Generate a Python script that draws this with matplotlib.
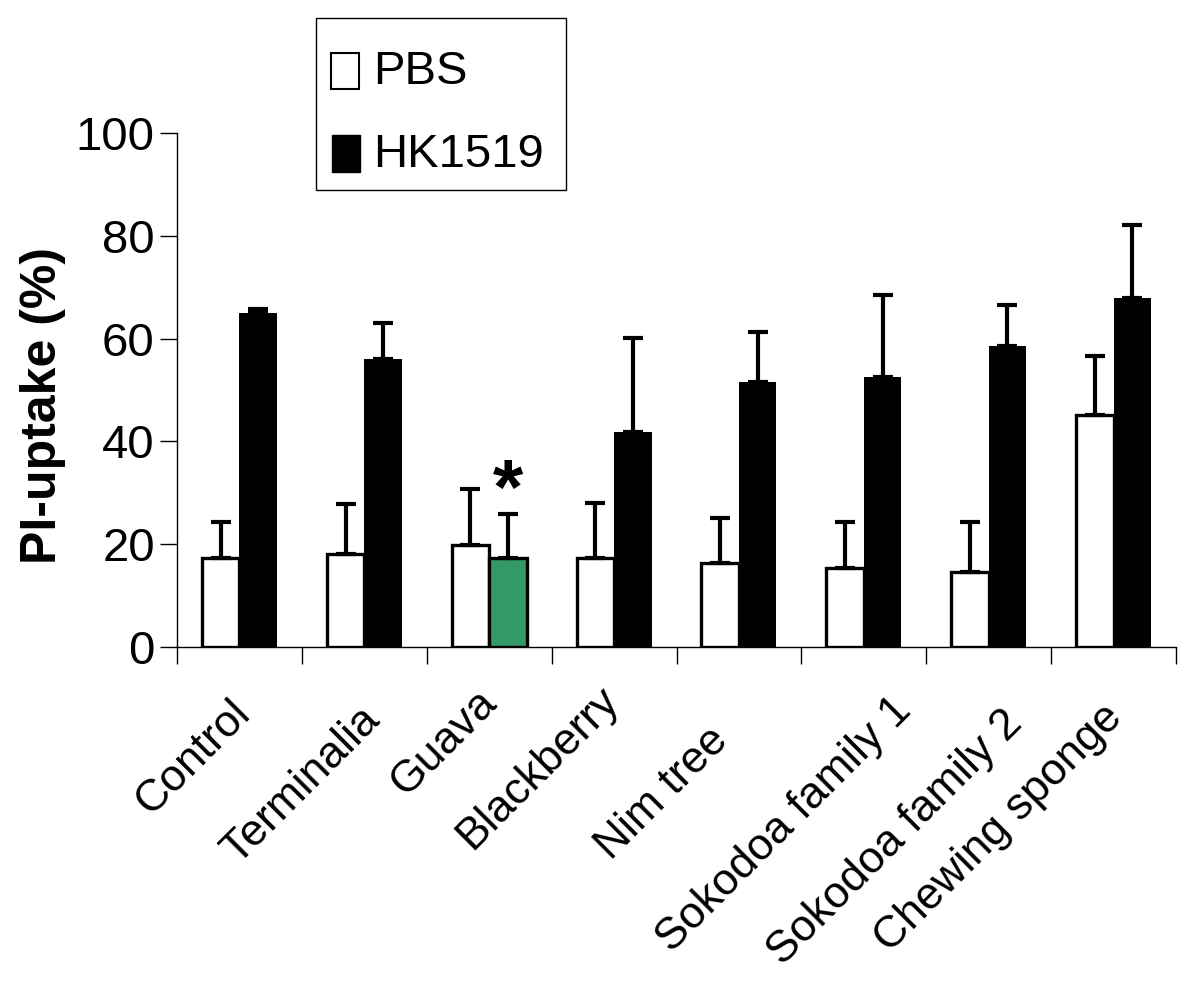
import numpy as np
import matplotlib.pyplot as plt
import matplotlib.transforms as mtransforms
from matplotlib.patches import Rectangle

# データ
categories = ['Control', 'Terminalia', 'Guava', 'Blackberry', 'Nim tree',
              'Sokodoa family 1', 'Sokodoa family 2', 'Chewing sponge']
pbs = [17.3, 18.1, 19.8, 17.3, 16.3, 15.4, 14.6, 45.1]
pbs_err = [7.0, 9.7, 10.9, 10.7, 8.8, 8.9, 9.7, 11.5]
hk = [65.0, 56.1, 17.3, 41.8, 51.6, 52.5, 58.6, 67.9]
hk_err = [0.7, 6.9, 8.6, 18.3, 9.7, 16.0, 7.9, 14.2]
legend_labels = ['PBS', 'HK1519']

#ラベル位置の微調整（ピクセル、右方向 / 下方向）
label_dx = [-10, -6, -13, -16, -32, 26, 13, -12]
label_dy = [45, 52, 34, 32, 72, 43, 55, 49]

plt.rcParams['font.family'] = ['Liberation Sans', 'DejaVu Sans']

fig = plt.figure(figsize=(12, 9.82), dpi=100)
ax = fig.add_axes([0.1475, 0.341, 0.8325, 0.5236])

x = np.arange(len(categories))
w = 0.3
hk_colors = ['black'] * len(categories)
hk_colors[2] = '#339966'

#白いバー（PBS）
ax.bar(x - w / 2, pbs, w, color='white', edgecolor='black', linewidth=2.4,
       yerr=[np.zeros(len(pbs)), pbs_err],
       error_kw=dict(ecolor='black', elinewidth=3, capsize=7, capthick=3),
       zorder=2)
#黒いバー（HK1519）
ax.bar(x + w / 2, hk, w, color=hk_colors, edgecolor='black',
       linewidth=[0 if c == 'black' else 2.4 for c in hk_colors],
       yerr=[np.zeros(len(hk)), hk_err],
       error_kw=dict(ecolor='black', elinewidth=3, capsize=7, capthick=3),
       zorder=2)

#有意差のマーク
ax.text(x[2] + w / 2, hk[2] + hk_err[2] + 4, '*', fontsize=56, fontweight='bold',
        ha='center', va='center')

ax.set_xlim(-0.5, len(categories) - 0.5)
ax.set_ylim(0, 100)
ax.set_yticks([0, 20, 40, 60, 80, 100])
ax.tick_params(axis='y', labelsize=34, length=12, width=1, direction='out', pad=4)

ax.set_xticks(np.arange(len(categories) + 1) - 0.5)
ax.set_xticklabels([])
ax.tick_params(axis='x', which='major', length=12, width=1, direction='out')
ax.set_xticks(x, minor=True)
ax.set_xticklabels(categories, minor=True, rotation=45, ha='right',
                   rotation_mode='anchor', fontsize=32)
ax.tick_params(axis='x', which='minor', length=0, pad=0)
for lab, dx, dy in zip(ax.xaxis.get_minorticklabels(), label_dx, label_dy):
    offset = mtransforms.ScaledTranslation(dx / 100, -dy / 100, fig.dpi_scale_trans)
    lab.set_transform(lab.get_transform() + offset)

ax.spines['top'].set_visible(False)
ax.spines['right'].set_visible(False)
ax.spines['left'].set_linewidth(1)
ax.spines['bottom'].set_linewidth(1)

ax.set_ylabel('PI-uptake (%)', fontsize=36, fontweight='bold')
ax.yaxis.set_label_coords(-0.111, 0.47)

#凡例（手描き）
fig.patches.append(Rectangle((316 / 1200, 1 - 190 / 982), 250 / 1200, 172 / 982,
                             transform=fig.transFigure, facecolor='white',
                             edgecolor='black', linewidth=1))
fig.patches.append(Rectangle((331 / 1200, 1 - 89 / 982), 28 / 1200, 36 / 982,
                             transform=fig.transFigure, facecolor='white',
                             edgecolor='black', linewidth=1.5))
fig.patches.append(Rectangle((332 / 1200, 1 - 172 / 982), 28 / 1200, 37 / 982,
                             transform=fig.transFigure, facecolor='black',
                             edgecolor='black', linewidth=1))
fig.text(373 / 1200, 1 - 72 / 982, legend_labels[0], fontsize=34, va='center')
fig.text(373 / 1200, 1 - 155 / 982, legend_labels[1], fontsize=34, va='center')

plt.savefig('out.png', dpi=100)
